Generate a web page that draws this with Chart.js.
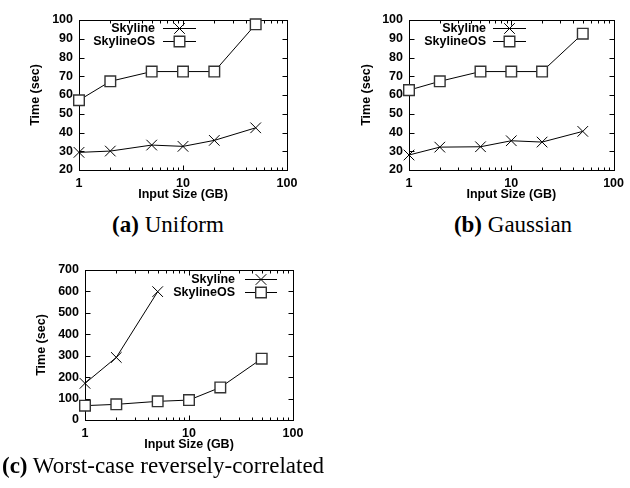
<!DOCTYPE html>
<html><head><meta charset="utf-8">
<script src="https://cdn.jsdelivr.net/npm/chart.js@4"></script>
<style>
html,body{margin:0;padding:0;background:#fff;}
body{width:630px;height:488px;position:relative;overflow:hidden;}
canvas{position:absolute;}
.cap{position:absolute;font-family:"Liberation Serif","Times New Roman",serif;font-size:23px;line-height:23px;white-space:nowrap;color:#000;}
.cap b{font-weight:bold;}
</style></head><body>
<canvas id="ca" width="315" height="205" style="left:0;top:0"></canvas>
<canvas id="cb" width="300" height="205" style="left:330px;top:0"></canvas>
<canvas id="cc" width="315" height="205" style="left:0;top:250px"></canvas>
<div class="cap" style="left:0;top:213px;width:336px;text-align:center"><b>(a)</b> Uniform</div>
<div class="cap" style="left:413px;top:213px;width:200px;text-align:center"><b>(b)</b> Gaussian</div>
<div class="cap" style="left:2px;top:454px"><b>(c)</b> Worst-case reversely-correlated</div>
<script>
const inputSizes = [1, 2, 5, 10, 20, 50];
const uniformSkyline = [29.4, 30.1, 33.3, 32.6, 35.8, 42.5];
const uniformSkylineOS = [57.2, 67.3, 72.5, 72.5, 72.5, 97.7];
const gaussianSkyline = [28.0, 32.2, 32.4, 35.6, 34.9, 40.6];
const gaussianSkylineOS = [62.6, 67.3, 72.5, 72.5, 72.5, 92.7];
const worstSkylineSizes = [1, 2, 5];
const worstSkyline = [171, 292, 599];
const worstSkylineOS = [67, 73, 87, 93, 152, 286];
const xTickValues = [1,2,3,4,5,6,7,8,9,10,20,30,40,50,60,70,80,90,100];
const xTickLabels = ['1', '10', '100'];
const yTicksAB = [20, 30, 40, 50, 60, 70, 80, 90, 100];
const yTicksC = [0, 100, 200, 300, 400, 500, 600, 700];
const seriesNames = ['Skyline', 'SkylineOS'];
const xTitle = 'Input Size (GB)';
const yTitle = 'Time (sec)';

const FONT = {family: '"Liberation Sans", Arial, Helvetica, sans-serif', size: 12.5, weight: 'bold'};

function pts(xs, ys) { return ys.map((y, i) => ({x: xs[i], y: y})); }

function drawMarker(ctx, style, r, bw, x, y) {
  if (Chart.helpers && Chart.helpers.drawPoint) {
    Chart.helpers.drawPoint(ctx, {pointStyle: style, radius: r, borderWidth: bw, rotation: 0}, x, y);
    return;
  }
  ctx.beginPath();
  const s = r * Math.SQRT1_2;
  if (style === 'rect') { ctx.rect(x - s, y - s, 2 * s, 2 * s); ctx.fill(); }
  else { ctx.moveTo(x - s, y - s); ctx.lineTo(x + s, y + s); ctx.moveTo(x - s, y + s); ctx.lineTo(x + s, y - s); }
  ctx.stroke();
}

function makeChart(id, cfg) {
  const frame = {
    id: 'gpFrame',
    beforeDatasetsDraw(chart) {
      const ctx = chart.ctx, a = chart.chartArea;
      const L = Math.round(a.left) + 0.5, R = Math.round(a.right) + 0.5;
      const T = Math.round(a.top) + 0.5, B = Math.round(a.bottom) + 0.5;
      ctx.save();
      ctx.strokeStyle = '#000'; ctx.lineWidth = 1;
      ctx.strokeRect(L, T, R - L, B - T);
      ctx.beginPath();
      const xs = chart.scales.x, ys = chart.scales.y;
      xs.ticks.forEach(t => {
        const px = Math.round(xs.getPixelForValue(t.value)) + 0.5;
        const len = xTickLabels.includes(String(t.value)) ? 5 : 3;
        ctx.moveTo(px, B); ctx.lineTo(px, B - len);
        ctx.moveTo(px, T); ctx.lineTo(px, T + len);
      });
      ys.ticks.forEach(t => {
        const py = Math.round(ys.getPixelForValue(t.value)) + 0.5;
        ctx.moveTo(L, py); ctx.lineTo(L + 5, py);
        ctx.moveTo(R, py); ctx.lineTo(R - 5, py);
      });
      ctx.stroke();
      ctx.restore();
    }
  };
  const legend = {
    id: 'gpLegend',
    afterDraw(chart) {
      const ctx = chart.ctx, lg = cfg.legend;
      ctx.save();
      ctx.font = 'bold 12.5px "Liberation Sans", Arial, sans-serif';
      ctx.textAlign = 'right'; ctx.textBaseline = 'middle';
      chart.data.datasets.forEach((ds, i) => {
        const y = lg.y[i];
        ctx.fillStyle = '#000';
        ctx.fillText(ds.label, lg.textRight, y + 1);
        ctx.strokeStyle = '#000'; ctx.lineWidth = 1;
        ctx.beginPath(); ctx.moveTo(lg.x1, y + 0.5); ctx.lineTo(lg.x2, y + 0.5); ctx.stroke();
        ctx.strokeStyle = ds.pointBorderColor; ctx.fillStyle = ds.pointBackgroundColor;
        ctx.lineWidth = ds.pointBorderWidth;
        drawMarker(ctx, ds.pointStyle, ds.pointRadius, ds.pointBorderWidth, (lg.x1 + lg.x2) / 2, y + 0.5);
      });
      ctx.restore();
    }
  };
  return new Chart(document.getElementById(id), {
    type: 'line',
    data: {
      datasets: [
        {label: seriesNames[0], data: pts(cfg.skyX, cfg.sky), borderColor: '#000', borderWidth: 1,
         pointStyle: 'crossRot', pointRadius: 7.5, pointHoverRadius: 7.5, pointBorderColor: '#000',
         pointBackgroundColor: '#000', pointBorderWidth: 1, tension: 0, fill: false, clip: false},
        {label: seriesNames[1], data: pts(cfg.osX, cfg.os), borderColor: '#000', borderWidth: 1,
         pointStyle: 'rect', pointRadius: 7.5, pointHoverRadius: 7.5, pointBorderColor: '#333',
         pointBackgroundColor: '#fff', pointBorderWidth: 1.4, tension: 0, fill: false, clip: false}
      ]
    },
    options: {
      responsive: false, animation: false, events: [],
      layout: {padding: {top: 20, right: cfg.padRight, left: 0, bottom: 0}},
      plugins: {legend: {display: false}, tooltip: {enabled: false}},
      scales: {
        x: {
          type: 'logarithmic', min: 1, max: 100,
          afterBuildTicks: s => { s.ticks = xTickValues.map(v => ({value: v})); },
          afterFit: s => { s.height = 35; },
          grid: {display: false, drawTicks: false, tickLength: 0}, border: {display: false},
          ticks: {autoSkip: false, maxRotation: 0, padding: 6, color: '#000', font: FONT,
                  callback: v => xTickLabels.includes(String(v)) ? String(v) : ''},
          title: {display: true, text: xTitle, color: '#000', font: FONT, padding: {top: 0, bottom: 3}}
        },
        y: {
          type: 'linear', min: cfg.yTicks[0], max: cfg.yTicks[cfg.yTicks.length - 1],
          afterBuildTicks: s => { s.ticks = cfg.yTicks.map(v => ({value: v})); },
          afterFit: s => { s.width = cfg.plotLeft; },
          grid: {display: false, drawTicks: false, tickLength: 0}, border: {display: false},
          ticks: {padding: 6, color: '#000', font: FONT},
          title: {display: true, text: yTitle, color: '#000', font: FONT, padding: {top: cfg.titlePad, bottom: 0}}
        }
      }
    },
    plugins: [frame, legend]
  });
}

makeChart('ca', {skyX: inputSizes, sky: uniformSkyline, osX: inputSizes, os: uniformSkylineOS,
  yTicks: yTicksAB, plotLeft: 79, padRight: 28, titlePad: 28.5,
  legend: {textRight: 155, x1: 163, x2: 196, y: [28, 41]}});
makeChart('cb', {skyX: inputSizes, sky: gaussianSkyline, osX: inputSizes, os: gaussianSkylineOS,
  yTicks: yTicksAB, plotLeft: 79, padRight: 12, titlePad: 29,
  legend: {textRight: 156, x1: 163, x2: 196, y: [28, 41]}});
makeChart('cc', {skyX: worstSkylineSizes, sky: worstSkyline, osX: inputSizes, os: worstSkylineOS,
  yTicks: yTicksC, plotLeft: 85, padRight: 22, titlePad: 34,
  legend: {textRight: 235, x1: 245, x2: 277, y: [29, 42]}});
</script>
</body></html>
